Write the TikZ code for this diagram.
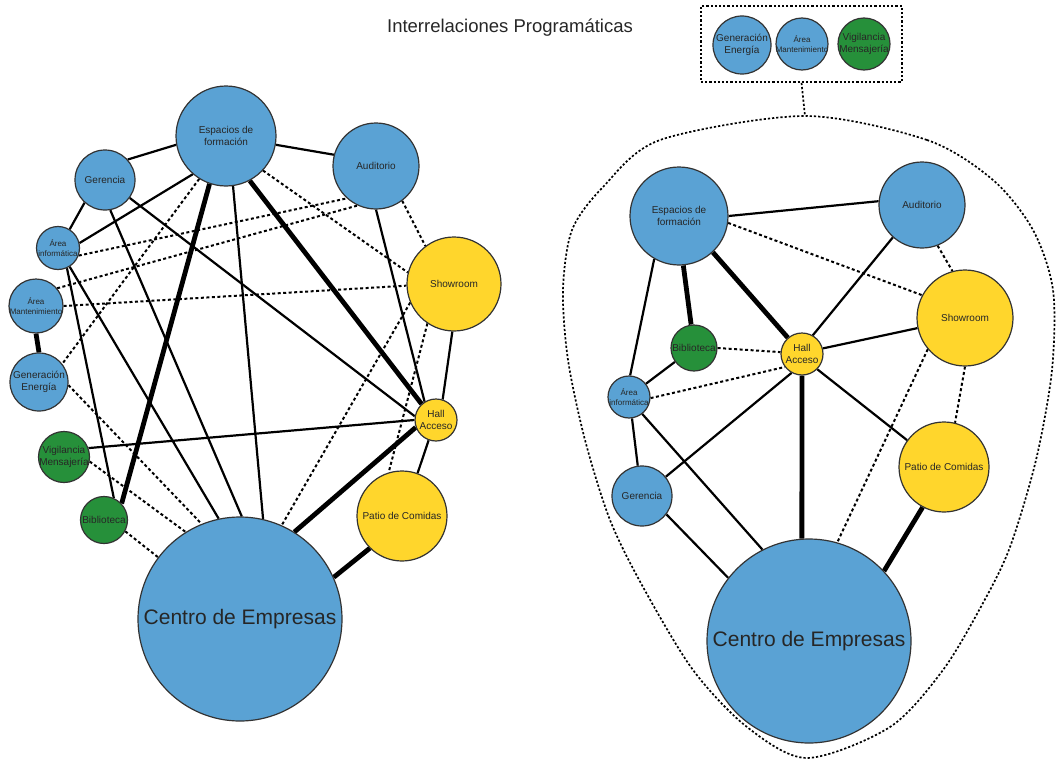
\documentclass[tikz,border=0pt]{standalone}
\usepackage{fontspec}
\setmainfont{Liberation Sans}
\usetikzlibrary{backgrounds}
\definecolor{roomblue}{HTML}{5AA2D4}
\definecolor{roomyellow}{HTML}{FFD62C}
\definecolor{roomgreen}{HTML}{26903A}

\begin{document}
\begin{tikzpicture}[x=1pt,y=-1pt,
  room/.style={circle,draw=black!80,line width=1.2pt,inner sep=0pt,minimum size=#1},
  bluebub/.style={room=#1,fill=roomblue},
  yellowbub/.style={room=#1,fill=roomyellow},
  greenbub/.style={room=#1,fill=roomgreen},
  every label/.style={align=center,text=black!85,font=\fontsize{10}{12}\selectfont},
  tiny/.style={font=\fontsize{8}{9.5}\selectfont},
  link/.style={line width=2.2pt},
  strong/.style={line width=4.8pt},
  weak/.style={line width=2pt,dash pattern=on 3pt off 2.5pt},
  frame/.style={line width=1.7pt,dash pattern=on 2.2pt off 2pt}]

  \useasboundingbox (0,0) rectangle (1057,760);

  % title
  \node[font=\fontsize{18.5}{20}\selectfont,text=black!85] (title) at (510,28) {Interrelaciones Programáticas};

  % left graph
  \node[bluebub=100, label=center:{Espacios de\\formación}] (ef) at (226,136) {};
  \node[bluebub=60, label=center:Gerencia] (ger) at (105,180) {};
  \node[bluebub=86, label=center:Auditorio] (aud) at (376,166) {};
  \node[bluebub=43, label={[tiny]center:Área\\informática}] (ai) at (58,248) {};
  \node[bluebub=54, label={[tiny]center:Área\\Mantenimiento}] (am) at (36,306) {};
  \node[bluebub=58, label=center:{Generación\\Energía}] (ge) at (39,382) {};
  \node[greenbub=51, label=center:{Vigilancia\\Mensajería}] (vm) at (64,457) {};
  \node[greenbub=47, label=center:Biblioteca] (bib) at (104,520) {};
  \node[bluebub=204, label={[font=\fontsize{21}{24}\selectfont]center:Centro de Empresas}] (ce) at (240,619) {};
  \node[yellowbub=94, label=center:Showroom] (sh) at (454,284) {};
  \node[yellowbub=42, label=center:{Hall\\Acceso}] (ha) at (436,420) {};
  \node[yellowbub=90, label=center:Patio de Comidas] (pc) at (402,516) {};

  \begin{scope}[on background layer]
    \draw[link] (ger.42) -- (ef.190);
    \draw[link] (ef.350) -- (aud.165);
    \draw[link] (ger.228) -- (ai.58);
    \draw[link] (ai.13) -- (ef.229);
    \draw[strong] (am.270) -- (ge.90);
    \draw[link] (ger.-80) -- (ce.89);
    \draw[link] (ger.-36) -- (ha.170);
    \draw[strong] (ef.251) -- (bib.43);
    \draw[link] (ef.278) -- (ce.77);
    \draw[strong] (ef.298) -- (ha.132);
    \draw[link] (aud.270) -- (ha.122);
    \draw[link] (sh.268) -- (ha.72);
    \draw[link] (ha.250) -- (pc.70);
    \draw[strong] (ha.200) -- (ce.58);
    \draw[strong] (pc.225) -- (ce.24);
    \draw[link] (vm.20) -- (ha.180);
    \draw[link] (ai.-66) -- (bib.66);
    \draw[link] (ai.-58) -- (ce.102);
    % dashed
    \draw[weak] (ef.317) -- (sh.166);
    \draw[weak] (ai.-20) -- (aud.228);
    \draw[weak] (am.40) -- (aud.245);
    \draw[weak] (am.0) -- (sh.182);
    \draw[weak] (ef.238) -- (ge.38);
    \draw[weak] (ge.-6) -- (ce.112);
    \draw[weak] (vm.-10) -- (ce.122);
    \draw[weak] (bib.-28) -- (ce.143);
    \draw[weak] (aud.307) -- (sh.127);
    \draw[weak] (sh.203) -- (ce.66);
    \draw[weak] (sh.236) -- (pc.107);
  \end{scope}

  % group box
  \node[draw,frame,minimum width=201,minimum height=76] (group) at (801.5,44) {};
  \node[bluebub=58, label=center:{Generación\\Energía}] (ge2) at (742,45) {};
  \node[bluebub=52, label={[tiny]center:Área\\Mantenimiento}] (am2) at (802,44) {};
  \node[greenbub=52, label=center:{Vigilancia\\Mensajería}] (vm2) at (864,44) {};

  % right graph
  \node[bluebub=98, label=center:{Espacios de\\formación}] (ef2) at (679,216) {};
  \node[bluebub=86, label=center:Auditorio] (aud2) at (922,205) {};
  \node[yellowbub=96, label=center:Showroom] (sh2) at (965,318) {};
  \node[greenbub=46, label=center:Biblioteca] (bib2) at (694,348) {};
  \node[yellowbub=42, label=center:{Hall\\Acceso}] (ha2) at (802,354) {};
  \node[bluebub=42, label={[tiny]center:Área\\informática}] (ai2) at (629,397) {};
  \node[bluebub=60, label=center:Gerencia] (ger2) at (642,496) {};
  \node[yellowbub=90, label=center:Patio de Comidas] (pc2) at (944,467) {};
  \node[bluebub=204, label={[font=\fontsize{21}{24}\selectfont]center:Centro de Empresas}] (ce2) at (809,641) {};

  \begin{scope}[on background layer]
    \draw[link] (ef2.0) -- (aud2.175);
    \draw[link] (ef2.240) -- (ai2.87);
    \draw[strong] (ef2.275) -- (bib2.97);
    \draw[strong] (ef2.313) -- (ha2.131);
    \draw[link] (aud2.228) -- (ha2.60);
    \draw[link] (ha2.15) -- (sh2.192);
    \draw[link] (ai2.38) -- (bib2.216);
    \draw[link] (ha2.241) -- (ger2.39);
    \draw[strong] (ha2.270) -- (ce2.94);
    \draw[link] (ha2.-45) -- (pc2.144);
    \draw[link] (ai2.-82) -- (ger2.98);
    \draw[link] (ai2.-52) -- (ce2.117);
    \draw[link] (ger2.-37) -- (ce2.142);
    \draw[strong] (pc2.242) -- (ce2.43);
    % dashed
    \draw[weak] (ef2.-8) -- (sh2.152);
    \draw[weak] (aud2.-69) -- (sh2.105);
    \draw[weak] (bib2.0) -- (ha2.175);
    \draw[weak] (ai2.-3) -- (ha2.217);
    \draw[weak] (sh2.220) -- (ce2.74);
    \draw[weak] (sh2.270) -- (pc2.76);
  \end{scope}

  % outline
  \coordinate (eggtop) at (805,116);
  \draw[frame] (group.south) -- (eggtop);
  \draw[frame] plot[smooth cycle] coordinates {(805,116) (927,140) (993,180) (1033,230) (1053,290)
    (1052,370) (1036,460) (1010,547) (983,603) (943,670) (890,727) (807,758) (747,727) (693,670)
    (643,587) (610,520) (585,440) (568,360) (563,290) (572,230) (603,187) (660,140)};

\end{tikzpicture}
\end{document}
